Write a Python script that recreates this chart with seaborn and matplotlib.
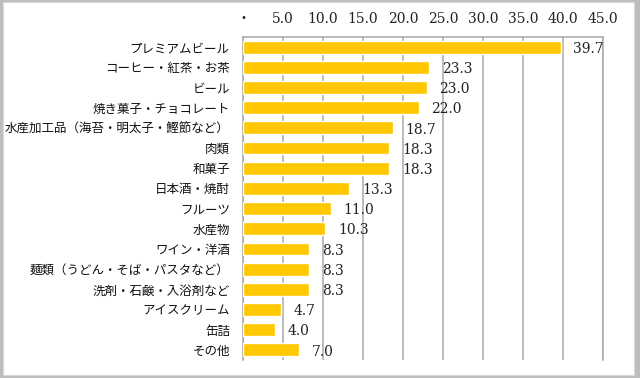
import matplotlib
matplotlib.use("Agg")
import matplotlib.pyplot as plt
import matplotlib.patches as patches
from matplotlib.ticker import FixedLocator, FixedFormatter
import seaborn as sns
import pandas as pd

categories = ["プレミアムビール", "コーヒー・紅茶・お茶", "ビール", "焼き菓子・チョコレート",
              "水産加工品（海苔・明太子・鰹節など）", "肉類", "和菓子", "日本酒・焼酎",
              "フルーツ", "水産物", "ワイン・洋酒", "麺類（うどん・そば・パスタなど）",
              "洗剤・石鹸・入浴剤など", "アイスクリーム", "缶詰", "その他"]
values = [39.7, 23.3, 23.0, 22.0, 18.7, 18.3, 18.3, 13.3,
          11.0, 10.3, 8.3, 8.3, 8.3, 4.7, 4.0, 7.0]
tick_values = [0, 5, 10, 15, 20, 25, 30, 35, 40, 45]
tick_labels = ["・", "5.0", "10.0", "15.0", "20.0", "25.0", "30.0", "35.0", "40.0", "45.0"]

sns.set_style("white")
plt.rcParams['font.family'] = ['Noto Sans CJK JP', 'DejaVu Sans']
num_font = ["DejaVu Serif", "Noto Sans CJK JP"]

df = pd.DataFrame({"item": categories, "value": values})

W, H = 640, 378
fig = plt.figure(figsize=(6.4, 3.78), dpi=100)
fig.patch.set_facecolor("#bdbdbd")
# white card with a thin grey frame
fig.patches.append(patches.Rectangle((3 / W, 3 / H), 631 / W, 373 / H, transform=fig.transFigure,
                                     facecolor="white", edgecolor="#dadada", lw=0.8, zorder=-10))

ax = fig.add_axes([243 / W, 1 - 360 / H, 360 / W, 323 / H])
ax.set_facecolor("none")
sns.barplot(data=df, x="value", y="item", color="#FFC800", saturation=1,
            width=0.64, ax=ax, zorder=3)

ax.set_xlim(0, 45)
ax.set_xlabel("")
ax.set_ylabel("")

# value axis on top, gridlines every 5
ax.xaxis.tick_top()
ax.xaxis.set_major_locator(FixedLocator(tick_values))
ax.xaxis.set_major_formatter(FixedFormatter(tick_labels))
ax.tick_params(axis="x", length=0, pad=8)
ax.tick_params(axis="y", length=0, pad=9.5)
for lab in ax.get_xticklabels():
    lab.set_family(num_font)
    lab.set_fontsize(10)
    lab.set_color("#222222")
for lab in ax.get_yticklabels():
    lab.set_fontsize(9)
    lab.set_color("#111111")

ax.grid(axis="x", color="#a8a8a8", lw=1.1, zorder=0)
ax.grid(axis="y", visible=False)
for side in ["left", "top", "right"]:
    ax.spines[side].set_visible(True)
    ax.spines[side].set_color("#a8a8a8")
    ax.spines[side].set_linewidth(1.1)
ax.spines["bottom"].set_visible(False)

# value labels next to each bar
for i, v in enumerate(values):
    ax.annotate(f"{v:.1f}", xy=(v, i), xytext=(9, -1.2), textcoords="offset points",
                ha="left", va="center", family=num_font, fontsize=10,
                color="#222222", zorder=4)

fig.savefig("out.png", dpi=100, facecolor=fig.get_facecolor())
